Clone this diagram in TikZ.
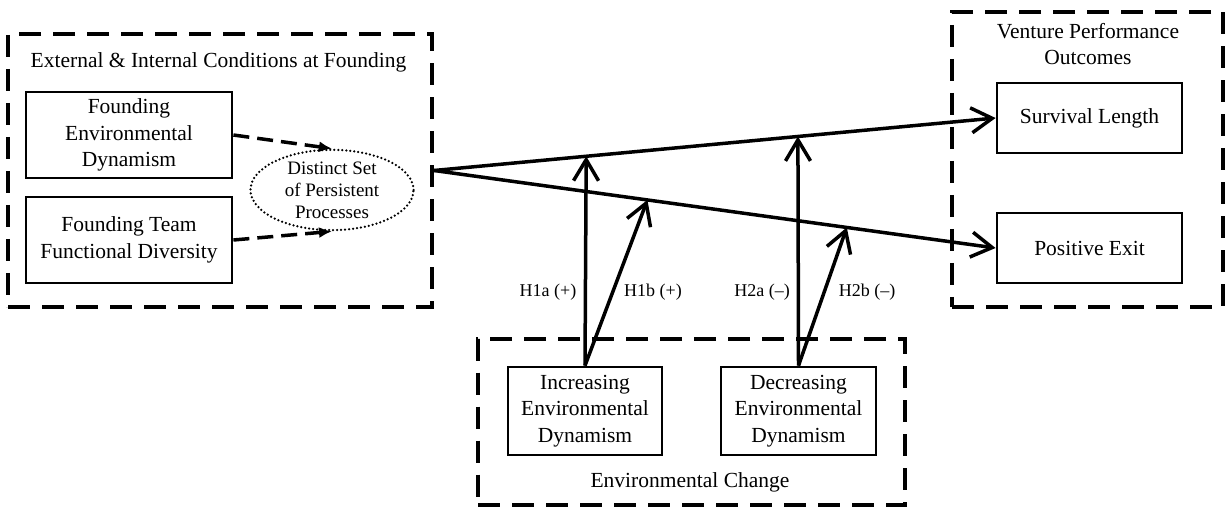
\documentclass[tikz,border=0pt]{standalone}
\usepackage{fontspec}
\setmainfont{Liberation Serif}
\usetikzlibrary{arrows.meta,shapes.geometric,positioning}

\begin{document}
\begin{tikzpicture}[x=1pt,y=-1pt,
    every node/.style={font=\fontsize{21.5}{26.5}\selectfont},
    group/.style={draw, line width=4pt, dash pattern=on 22pt off 12pt, inner sep=0pt},
    varbox/.style={draw, line width=2.8pt, align=center, inner sep=0pt},
    link/.style={line width=3.5pt, -{Straight Barb[length=21pt,width=25pt,line width=3.5pt]}},
    mediate/.style={line width=3.5pt, dash pattern=on 16pt off 8pt, -{Latex[length=13pt,width=11pt]}},
    hlabel/.style={font=\fontsize{18}{22}\selectfont}]
  \useasboundingbox (0,0) rectangle (1225,510);

  % groups
  \node[group, minimum width=424pt, minimum height=273pt] (cond) at (220,170.5) {};
  \node[group, minimum width=271pt, minimum height=295pt] (perf) at (1087.5,159.5) {};
  \node[group, minimum width=427pt, minimum height=166pt] (change) at (691.5,421.5) {};
  \node (condtitle) at (218.5,62) {External \& Internal Conditions at Founding};
  \node[align=center] (perftitle) at (1088,44) {Venture Performance\\Outcomes};
  \node (changetitle) at (690,482) {Environmental Change};

  % variables
  \node[varbox, minimum width=206pt, minimum height=86pt] (fed) at (129,135)
    {Founding\\Environmental\\Dynamism};
  \node[varbox, minimum width=206pt, minimum height=86pt] (ftd) at (129,240)
    {Founding Team\\Functional Diversity};
  \node[ellipse, draw, line width=2.5pt, dash pattern=on 0pt off 4pt, line cap=round,
        minimum width=163pt, minimum height=77pt, inner sep=0pt, align=center,
        font=\fontsize{19}{22}\selectfont] (proc) at (332,190)
    {Distinct Set\\of Persistent\\Processes};
  \node[varbox, minimum width=185pt, minimum height=70pt] (surv) at (1089.5,118) {Survival Length};
  \node[varbox, minimum width=185pt, minimum height=70pt] (exit) at (1089.5,248) {Positive Exit};
  \node[varbox, minimum width=154pt, minimum height=88pt] (incr) at (585,411)
    {Increasing\\Environmental\\Dynamism};
  \node[varbox, minimum width=155pt, minimum height=88pt] (decr) at (798.5,411)
    {Decreasing\\Environmental\\Dynamism};

  % main effects
  \draw[mediate] (fed.east) -- (proc.north);
  \draw[mediate] (ftd.east) -- (proc.south);
  \draw[link] (cond.east) -- coordinate[pos=0.271] (h1a) coordinate[pos=0.648] (h2a) (surv.west);
  \draw[link] (cond.east) -- coordinate[pos=0.380] (h1b) coordinate[pos=0.735] (h2b) (exit.west);

  % moderation
  \draw[link] (incr.north) -- (h1a);
  \draw[link] (incr.north) -- (h1b);
  \draw[link] (decr.north) -- (h2a);
  \draw[link] (decr.north) -- (h2b);
  \node[hlabel] (l1a) at (548,292) {H1a (+)};
  \node[hlabel] (l1b) at (653,292) {H1b (+)};
  \node[hlabel] (l2a) at (762,292) {H2a (--)};
  \node[hlabel] (l2b) at (867,292) {H2b (--)};
\end{tikzpicture}
\end{document}
